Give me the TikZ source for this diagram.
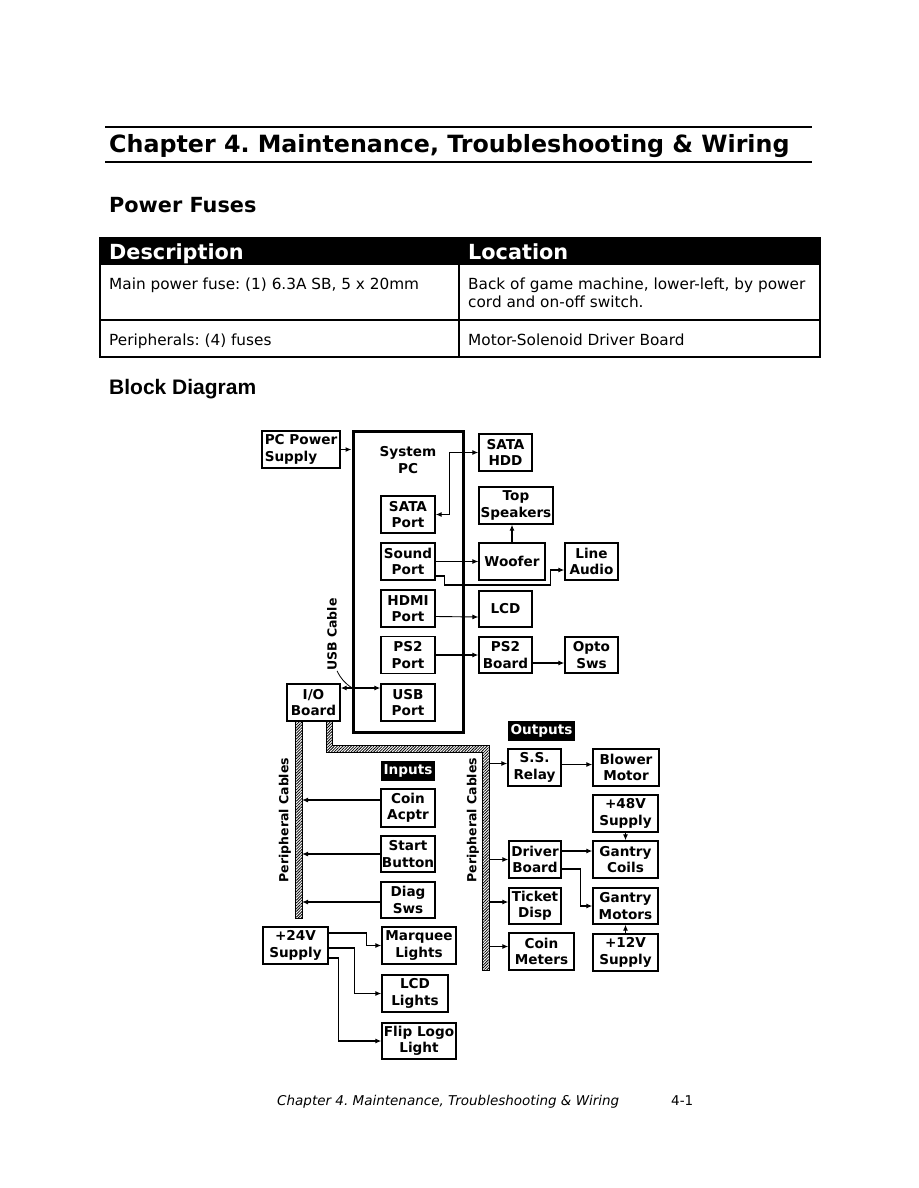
\documentclass[tikz,border=0pt]{standalone}
\usepackage{fontspec}
\setmainfont{DejaVu Sans}
\newfontfamily\arialfont{Liberation Sans}
\usetikzlibrary{arrows.meta,patterns.meta}
\frenchspacing
\newcommand{\bxfont}{\fontsize{13.6}{16.2}\selectfont\bfseries}
\newcommand{\cellfont}{\fontsize{15.3}{18}\selectfont}
\newcommand{\hdrfont}{\fontsize{20.8}{24}\selectfont\bfseries}
\tikzset{
  unit/.style={draw, line width=1.3pt, align=center, inner sep=1pt, font=\bxfont},
  wh/.style 2 args={minimum width=#1, minimum height=#2},
  tagbox/.style={fill=black, text=white, inner sep=1pt, font=\bxfont},
  feed/.style={-{Latex[length=6pt,width=5pt]}, line width=1.3pt},
  thinfeed/.style={feed, line width=0.9pt},
  link/.style={{Latex[length=6pt,width=5pt]}-{Latex[length=6pt,width=5pt]}, line width=1.3pt},
  cable/.style={draw, line width=1pt, pattern={Lines[angle=45,distance=2pt,line width=0.8pt]}},
  vlbl/.style={rotate=90, font=\fontsize{12.5}{14}\selectfont\bfseries, inner sep=0pt},
  txt/.style={inner sep=0pt, anchor=base west},
}

\begin{document}
\begin{tikzpicture}[x=1pt, y=-1pt]
\useasboundingbox[fill=white] (0,0) rectangle (918,1188);
% page heading
\draw[line width=2pt] (105,127) -- (812,127);
\draw[line width=2.5pt] (105,162) -- (812,162);
\node[txt, font=\fontsize{23.75}{28}\selectfont\bfseries] (chap) at (109,153) {Chapter 4. Maintenance, Troubleshooting \& Wiring};
\node[txt, font=\hdrfont] (fuses) at (109,212) {Power Fuses};
% fuse table
\fill (100,238) rectangle (820,265);
\draw[line width=1.3pt] (100,238) rectangle (820,357);
\draw[line width=1.3pt] (100,320) -- (820,320);
\draw[line width=1.3pt] (459,265) -- (459,357);
\node[txt, font=\hdrfont, text=white] (hdesc) at (109,259) {Description};
\node[txt, font=\hdrfont, text=white] (hloc) at (468,259) {Location};
\node[txt, font=\cellfont] (r1a) at (109,289) {Main power fuse: (1) 6.3A SB, 5 x 20mm};
\node[txt, font=\cellfont] (r1b) at (468,289) {Back of game machine, lower-left, by power};
\node[txt, font=\cellfont] (r1c) at (468,307) {cord and on-off switch.};
\node[txt, font=\cellfont] (r2a) at (109,345) {Peripherals: (4) fuses};
\node[txt, font=\cellfont] (r2b) at (468,345) {Motor-Solenoid Driver Board};
\node[txt, font=\arialfont\bfseries\fontsize{21}{24}\selectfont] (blkdiag) at (109,394) {Block Diagram};

% system PC and ports
\node[unit, wh={78}{37}, align=left] (pcps) at (301,449.5) {PC Power\\Supply};
\node[draw, line width=3pt, wh={110}{301}] (syspc) at (408,581.5) {};
\node[font=\bxfont, align=center, inner sep=0pt] (syspcl) at (408,460) {System\\PC};
\node[unit, wh={54}{37}] (sataport)  at (408,514.5) {SATA\\Port};
\node[unit, wh={54}{37}] (soundport) at (408,561.5) {Sound\\Port};
\node[unit, wh={54}{37}] (hdmiport)  at (408,608.5) {HDMI\\Port};
\node[unit, wh={54}{37}] (ps2port)   at (408,655) {PS2\\Port};
\node[unit, wh={54}{37}] (usbport)   at (408,702.5) {USB\\Port};
% PC peripherals
\node[unit, wh={53}{37}] (satahdd)   at (505.5,452.5) {SATA\\HDD};
\node[unit, wh={74}{37}] (topspk)    at (516,505.5) {Top\\Speakers};
\node[unit, wh={66}{37}] (woofer)    at (512,561.5) {Woofer};
\node[unit, wh={53}{37}] (lineaudio) at (591.5,561.5) {Line\\Audio};
\node[unit, wh={53}{36}] (lcd)       at (505.5,609) {LCD};
\node[unit, wh={53}{36}] (ps2board)  at (505.5,655) {PS2\\Board};
\node[unit, wh={53}{36}] (opto)      at (591.5,655) {Opto\\Sws};
\node[unit, wh={53}{37}] (iob)       at (313.5,702.5) {I/O\\Board};
\node[vlbl] (usblbl) at (332,634.5) {USB Cable};
% outputs
\node[tagbox, wh={67}{20}] (outtag) at (541.5,731) {Outputs};
\node[unit, wh={53}{37}] (ssrelay) at (534.5,767.5) {S.S.\\Relay};
\node[unit, wh={66}{37}] (blower)  at (626,767.5) {Blower\\Motor};
\node[unit, wh={65}{37}] (s48)     at (625.5,813.5) {+48V\\Supply};
\node[unit, wh={52}{37}] (driver)  at (535,859.5) {Driver\\Board};
\node[unit, wh={65}{37}] (coils)   at (625.5,859.5) {Gantry\\Coils};
\node[unit, wh={52}{36}] (ticket)  at (535,906) {Ticket\\Disp};
\node[unit, wh={65}{36}] (motors)  at (625.5,906) {Gantry\\Motors};
\node[unit, wh={65}{37}] (coinmet) at (541.5,951.5) {Coin\\Meters};
\node[unit, wh={65}{37}] (s12)     at (625.5,952.5) {+12V\\Supply};
% inputs
\node[tagbox, wh={54}{20}] (intag) at (408,771) {Inputs};
\node[unit, wh={54}{38}] (coinacc) at (408,808) {Coin\\Acptr};
\node[unit, wh={54}{36}] (start)   at (408,854) {Start\\Button};
\node[unit, wh={54}{36}] (diag)    at (408,900) {Diag\\Sws};
% lamps
\node[unit, wh={65}{37}] (s24)       at (295.5,945.5) {+24V\\Supply};
\node[unit, wh={74}{37}] (marquee)   at (419,945.5) {Marquee\\Lights};
\node[unit, wh={66}{37}] (lcdlights) at (415,993.5) {LCD\\Lights};
\node[unit, wh={74}{36}] (fliplogo)  at (419,1041) {Flip Logo\\Light};

% peripheral cables
\draw[cable] (295,721) rectangle (302,918);
\draw[cable] (326,721) -- (326,752) -- (482,752) -- (482,970) -- (489,970) -- (489,745) -- (332,745) -- (332,721) -- cycle;
\coordinate (lcab) at (302,0);
\coordinate (rcab) at (489,0);
\node[vlbl] (lcablbl) at (285,820) {Peripheral Cables};
\node[vlbl] (rcablbl) at (473,820) {Peripheral Cables};

% connectors
\draw[feed] (pcps.east) -- (pcps.east -| syspc.west);
\draw[link] (sataport.east) -- ++(14,0) |- (satahdd.west);
\draw[thinfeed] (soundport.east) -- (woofer.west);
\draw[feed] ([yshift=-14.5pt]soundport.east) -- ++(9,0) -- ++(0,9) -| ([xshift=-14pt,yshift=-8.5pt]lineaudio.west) -- ([yshift=-8.5pt]lineaudio.west);
\draw[feed] (woofer.north) -- (woofer.north |- topspk.south);
\draw[thinfeed] ([yshift=-8pt]hdmiport.east) -- ([yshift=-8pt]lcd.west);
\draw[feed] (ps2port.east) -- (ps2board.west);
\draw[feed] ([yshift=-8pt]ps2board.east) -- ([yshift=-8pt]opto.west);
\draw[link] ([yshift=14.5pt]iob.east) -- coordinate[pos=0.29] (usbtap) ([yshift=14.5pt]usbport.west);
\draw[line width=0.8pt] (usblbl.south west) to[bend right=15] (usbtap);

\draw[feed] ([yshift=8pt]coinacc.west) -- ([yshift=8pt]coinacc.west -| lcab);
\draw[feed] (start.west) -- (start.west -| lcab);
\draw[feed] ([yshift=-2pt]diag.west) -- ([yshift=-2pt]diag.west -| lcab);

\draw[feed] ([yshift=4pt]ssrelay.west -| rcab) -- ([yshift=4pt]ssrelay.west);
\draw[feed] (driver.west -| rcab) -- (driver.west);
\draw[feed] ([yshift=4pt]ticket.west -| rcab) -- ([yshift=4pt]ticket.west);
\draw[feed] ([yshift=5pt]coinmet.west -| rcab) -- ([yshift=5pt]coinmet.west);
\draw[feed] ([yshift=3pt]ssrelay.east) -- ([yshift=3pt]blower.west);
\draw[feed] ([yshift=8.5pt]driver.east) -- ([yshift=8.5pt]coils.west);
\draw[feed] ([yshift=-9.5pt]driver.east) -- ++(19,0) |- (motors.west);
\draw[feed] (s48.south) -- (coils.north);
\draw[feed] (s12.north) -- (motors.south);

\draw[feed] ([yshift=12.5pt]s24.east) -| ([xshift=-15pt]marquee.west) -- (marquee.west);
\draw[feed] ([yshift=-2.5pt]s24.east) -| ([xshift=-27pt]lcdlights.west) -- (lcdlights.west);
\draw[feed] ([yshift=-12.5pt]s24.east) -| ([xshift=-43pt]fliplogo.west) -- (fliplogo.west);

% page footer
\node[txt, font=\itshape\fontsize{13.5}{16}\selectfont] (foot) at (277,1105) {Chapter 4. Maintenance, Troubleshooting \& Wiring};
\node[txt, font=\fontsize{13.5}{16}\selectfont] (pgno) at (671,1105) {4-1};
\end{tikzpicture}
\end{document}
